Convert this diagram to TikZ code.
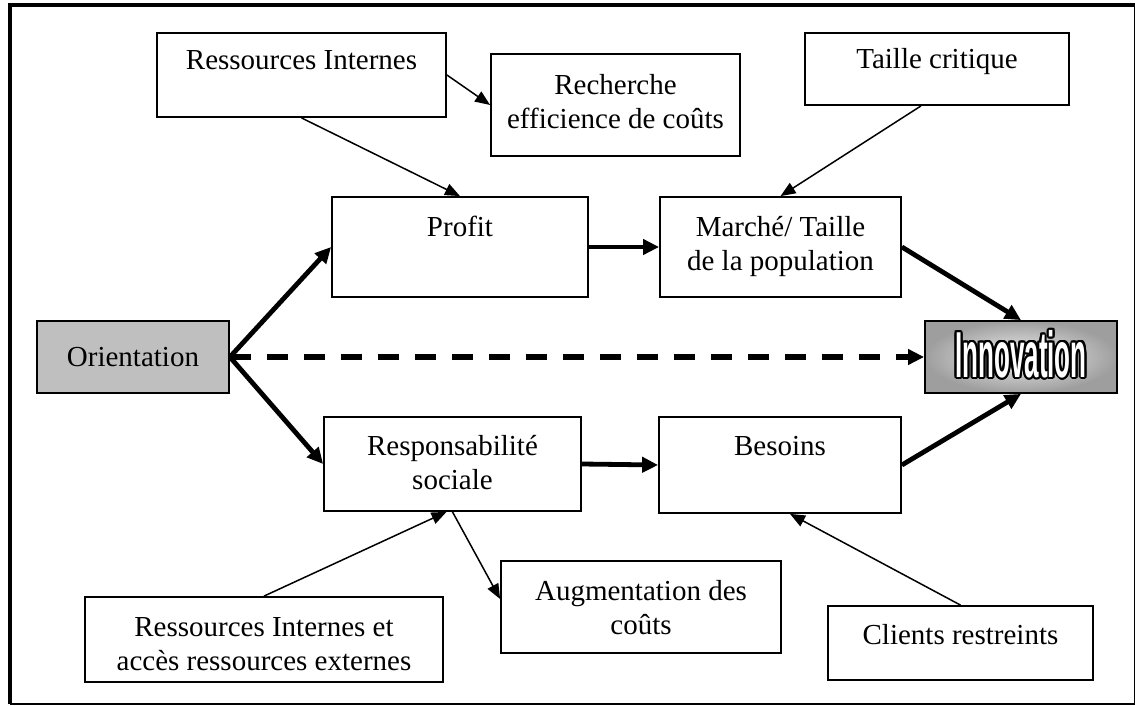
\documentclass[tikz,border=0pt]{standalone}
\usepackage{fontspec}
\setmainfont{Liberation Serif}
\newfontfamily\wordartfont{Liberation Sans}[FakeStretch=0.4]
\usepackage{contour}
\contourlength{1pt}
\usetikzlibrary{arrows.meta}
\begin{document}
\begin{tikzpicture}[x=0.5pt,y=-0.5pt,
  bx/.style={draw, line width=0.9pt, inner sep=0pt},
  tx/.style={font=\fontsize{14.5}{17}\selectfont, align=center, inner sep=0pt, anchor=base},
  bigarrow/.style={line width=2.4pt, -{Triangle[length=8pt,width=7.5pt]}},
  thinarrow/.style={line width=0.75pt, -{Triangle[length=7.5pt,width=6pt]}},
  dasharrow/.style={line width=2.6pt, dash pattern=on 10.5pt off 8pt, -{Triangle[length=8pt,width=7.5pt]}}
]
\useasboundingbox (0,0) rectangle (1135,706);

% outer frame: heavy top and left sides, light bottom and right sides
\draw[line width=0.75pt] (10,704) -- (1134.3,704) -- (1134.3,5.5);
\draw[line width=2pt] (10,704) -- (10,5.5) -- (1135,5.5);

% boxes
\node[bx, minimum width=144.5pt, minimum height=42pt] (resint) at (301.5,75) {};
\node[bx, minimum width=124.5pt, minimum height=51pt] (rech) at (615.5,105) {};
\node[bx, minimum width=132pt, minimum height=36pt] (taille) at (937,69) {};
\node[bx, minimum width=128pt, minimum height=50pt] (profit) at (460,247) {};
\node[bx, minimum width=120.5pt, minimum height=50pt] (marche) at (780.5,247) {};
\node[bx, fill=black!25, minimum width=96pt, minimum height=36pt] (orient) at (133,357) {};
\node[bx, inner color=black!6, outer color=black!38, minimum width=96pt, minimum height=36pt] (innov) at (1021,357) {};
\node[bx, minimum width=128.5pt, minimum height=47pt] (resp) at (452.5,464) {};
\node[bx, minimum width=121pt, minimum height=48pt] (besoins) at (780,465) {};
\node[bx, minimum width=140pt, minimum height=46pt] (augm) at (641,607) {};
\node[bx, minimum width=179pt, minimum height=42.5pt] (resext) at (264,639.5) {};
\node[bx, minimum width=132.5pt, minimum height=37pt] (clients) at (960.5,643) {};

% labels (two-line labels are placed by the baseline of their last line)
\node[tx] (resint-t) at (301.5,70) {Ressources Internes};
\node[tx] (rech-t) at (615.5,128) {Recherche\\efficience de coûts};
\node[tx] (taille-t) at (937,69) {Taille critique};
\node[tx] (profit-t) at (460,236) {Profit};
\node[tx] (marche-t) at (780.5,270) {Marché/ Taille\\de la population};
\node[tx] (orient-t) at (133,366) {Orientation};
\node[inner sep=0pt] (innov-t) at (1021,355)
  {\fontsize{32.5}{32.5}\wordartfont\bfseries\contour{black}{\textcolor{white}{Innovation}}};
\node[tx] (resp-t) at (452.5,489) {Responsabilité\\sociale};
\node[tx] (besoins-t) at (780,455) {Besoins};
\node[tx] (augm-t) at (641,634) {Augmentation des\\coûts};
\node[tx] (resext-t) at (264,670) {Ressources Internes et\\accès ressources externes};
\node[tx] (clients-t) at (960.5,644) {Clients restreints};

% main flow
\draw[bigarrow] (orient.east) -- (profit.west);
\draw[bigarrow] (orient.east) -- (resp.west);
\draw[dasharrow] (orient.east) -- (innov.west);
\draw[bigarrow] (profit.east) -- (marche.west);
\draw[bigarrow] (resp.east) -- (besoins.west);
\draw[bigarrow] (marche.east) -- (innov.north);
\draw[bigarrow] (besoins.east) -- (innov.south);

% side influences
\draw[thinarrow] (resint.south) -- (profit.north);
\draw[thinarrow] (resint.east) -- (rech.west);
\draw[thinarrow] ([xshift=-8pt]taille.south) -- (marche.north);
\draw[thinarrow] (resext.north) -- ([xshift=-3pt]resp.south);
\draw[thinarrow] (resp.south) -- ([yshift=4pt]augm.west);
\draw[thinarrow] (clients.north) -- ([xshift=5pt]besoins.south);
\end{tikzpicture}
\end{document}
